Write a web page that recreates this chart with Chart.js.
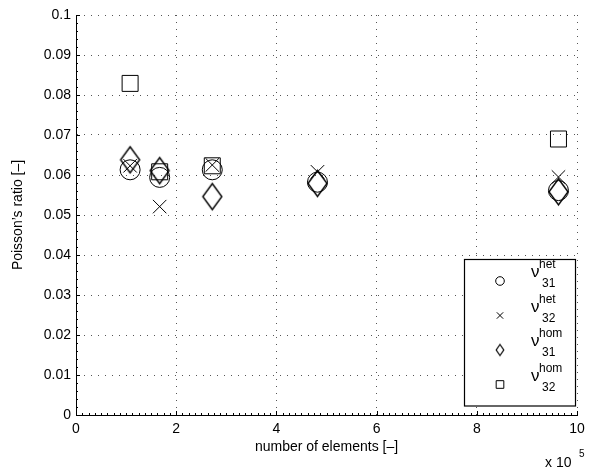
<!DOCTYPE html>
<html>
<head>
<meta charset="utf-8">
<script src="https://cdn.jsdelivr.net/npm/chart.js@4/dist/chart.umd.min.js"></script>
<style>
  html, body { margin: 0; padding: 0; background: #fff; }
  #wrap { width: 591px; height: 471px; }
</style>
</head>
<body>
<div id="wrap"><canvas id="c" width="591" height="471"></canvas></div>
<script>
// ---- data (x in units of 10^5 elements) ----
const elements = [1.08, 1.67, 2.72, 4.82, 9.63];
const nuHet31 = [0.0613, 0.0594, 0.0613, 0.0582, 0.0561];
const nuHet32 = [0.0623, 0.0521, 0.0625, 0.0608, 0.0595];
const nuHom31 = [0.0638, 0.0611, 0.0546, 0.0579, 0.0558];
const nuHom32 = [0.0829, 0.0608, 0.0623, null, 0.0690];
const xTickLabels = ['0', '2', '4', '6', '8', '10'];
const yTickLabels = ['0', '0.01', '0.02', '0.03', '0.04', '0.05', '0.06', '0.07', '0.08', '0.09', '0.1'];
const seriesNames = ['31|het', '32|het', '31|hom', '32|hom'];

const FONT = '"Liberation Sans", Arial, Helvetica, sans-serif';

function diamondCanvas(hw, hh, lw) {
  const c = document.createElement('canvas');
  c.width = Math.ceil(hw * 2 + 4);
  c.height = Math.ceil(hh * 2 + 4);
  const g = c.getContext('2d');
  const cx = c.width / 2, cy = c.height / 2;
  g.strokeStyle = '#000';
  g.lineWidth = lw;
  g.lineJoin = 'miter';
  g.beginPath();
  g.moveTo(cx, cy - hh);
  g.lineTo(cx + hw, cy);
  g.lineTo(cx, cy + hh);
  g.lineTo(cx - hw, cy);
  g.closePath();
  g.stroke();
  return c;
}
const bigDiamond = diamondCanvas(9.5, 13, 1.4);
const smallDiamond = diamondCanvas(3.8, 5.5, 1.2);

function pts(ys) {
  return elements.map((x, i) => ({ x: x, y: ys[i] })).filter(p => p.y !== null);
}

const extras = {
  id: 'extras',
  beforeDraw(chart) {
    const ctx = chart.ctx;
    ctx.save();
    ctx.fillStyle = '#fff';
    ctx.fillRect(0, 0, chart.width, chart.height);
    ctx.restore();
  },
  afterDatasetsDraw(chart) {
    const ctx = chart.ctx;
    const xs = chart.scales.x, ys = chart.scales.y;
    const left = xs.left, bottom = ys.bottom;
    ctx.save();
    ctx.strokeStyle = '#000';
    ctx.lineWidth = 1;
    // minor / major ticks on x (inward)
    for (let i = 0; i <= 80; i++) {
      const v = i * 0.125;
      const px = Math.round(xs.getPixelForValue(v)) + 0.5;
      const len = (i % 16 === 0) ? 4 : 2;
      ctx.beginPath();
      ctx.moveTo(px, bottom);
      ctx.lineTo(px, bottom - len);
      ctx.stroke();
    }
    for (let i = 0; i <= 50; i++) {
      const v = i * 0.002;
      const py = Math.round(ys.getPixelForValue(v)) + 0.5;
      const len = (i % 5 === 0) ? 4 : 2;
      ctx.beginPath();
      ctx.moveTo(left, py);
      ctx.lineTo(left + len, py);
      ctx.stroke();
    }
    // exponent label
    ctx.fillStyle = '#000';
    ctx.textBaseline = 'alphabetic';
    ctx.textAlign = 'left';
    ctx.font = '14px ' + FONT;
    ctx.fillText('x 10', 545, 467);
    ctx.font = '10px ' + FONT;
    ctx.fillText('5', 579, 457);

    // legend
    const bx = 464.5, by = 259.5, bw = 111, bh = 146.5;
    ctx.fillStyle = '#fff';
    ctx.fillRect(bx, by, bw, bh);
    ctx.strokeStyle = '#000';
    ctx.lineWidth = 1.2;
    ctx.strokeRect(bx, by, bw, bh);
    const rows = [281, 315.5, 350, 384.5];
    const styles = [
      { pointStyle: 'circle', radius: 4.3 },
      { pointStyle: 'crossRot', radius: 4.5 },
      { pointStyle: smallDiamond, radius: 5 },
      { pointStyle: 'rect', radius: 5.4 }
    ];
    rows.forEach((cy, i) => {
      const st = styles[i];
      ctx.strokeStyle = '#000';
      ctx.fillStyle = 'rgba(0,0,0,0)';
      ctx.lineWidth = 1;
      Chart.helpers.drawPoint(ctx, { pointStyle: st.pointStyle, radius: st.radius, rotation: 0, borderWidth: 1 }, 500, cy);
      const parts = seriesNames[i].split('|');
      ctx.fillStyle = '#000';
      ctx.textAlign = 'left';
      ctx.font = '17px ' + FONT;
      ctx.fillText('\u03BD', 531, cy - 4);
      ctx.font = '12px ' + FONT;
      ctx.fillText(parts[1], 539, cy - 13);
      ctx.fillText(parts[0], 542, cy + 6);
    });
    ctx.restore();
  }
};

const common = { borderColor: '#000', backgroundColor: 'rgba(0,0,0,0)', borderWidth: 1, showLine: false, pointHoverRadius: 0 };

new Chart(document.getElementById('c'), {
  type: 'scatter',
  data: {
    datasets: [
      Object.assign({ label: 'het31', data: pts(nuHet31), pointStyle: 'circle', pointRadius: 10 }, common),
      Object.assign({ label: 'het32', data: pts(nuHet32), pointStyle: 'crossRot', pointRadius: 9.5 }, common),
      Object.assign({ label: 'hom31', data: pts(nuHom31), pointStyle: bigDiamond, pointRadius: 13 }, common),
      Object.assign({ label: 'hom32', data: pts(nuHom32), pointStyle: 'rect', pointRadius: 11.3 }, common)
    ]
  },
  options: {
    responsive: false,
    devicePixelRatio: 1,
    animation: false,
    layout: { padding: { top: 15, right: 8, left: 0, bottom: 0 } },
    plugins: { legend: { display: false }, tooltip: { enabled: false } },
    scales: {
      x: {
        type: 'linear', min: 0, max: 10,
        afterFit: s => { s.height = 56; },
        ticks: { stepSize: 2, padding: 6, color: '#000', font: { family: FONT, size: 14 }, maxRotation: 0,
                 callback: (v, i) => xTickLabels[i] },
        grid: { color: '#555', lineWidth: 1, drawTicks: false },
        border: { display: true, color: '#000', width: 1, dash: [1, 6] },
        title: { display: true, text: 'number of elements [\u2013]', color: '#000', font: { family: FONT, size: 14 }, padding: { top: 0, bottom: 15 } }
      },
      y: {
        type: 'linear', min: 0, max: 0.1,
        afterFit: s => { s.width = 76; },
        ticks: { stepSize: 0.01, padding: 5, color: '#000', font: { family: FONT, size: 14 },
                 callback: (v, i) => yTickLabels[i] },
        grid: { color: '#555', lineWidth: 1, drawTicks: false },
        border: { display: true, color: '#000', width: 1, dash: [1, 6] },
        title: { display: true, text: 'Poisson\u2019s ratio [\u2013]', color: '#000', font: { family: FONT, size: 14 }, padding: { top: 10, bottom: 0 } }
      }
    }
  },
  plugins: [extras]
});
</script>
</body>
</html>
